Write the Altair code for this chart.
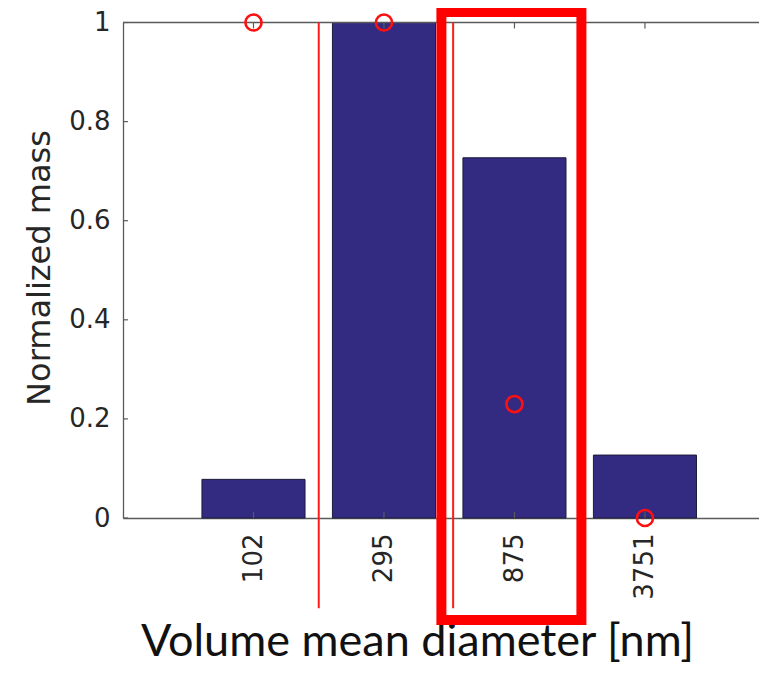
import altair as alt
import pandas as pd

# ---- data ----
categories = ["102", "295", "875", "3751"]
positions = [1, 2, 3, 4]
mass = [0.078, 1.0, 0.727, 0.127]
markers = [1.0, 1.0, 0.23, 0.0]
y_ticks = [0, 0.2, 0.4, 0.6, 0.8, 1.0]
separators = [1.5, 2.53]
highlight = {"category": "875", "x0": 2.44, "x1": 3.513, "y0": -0.206, "y1": 1.021}

half_bar = 0.395
x_max = 4.874
sep_bottom = -0.182
tick_y = 0.012
tick_x = 0.038

bars = pd.DataFrame({
    "cat": categories,
    "pos": positions,
    "mass": mass,
    "lo": [p - half_bar for p in positions],
    "hi": [p + half_bar for p in positions],
    "zero": [0.0] * len(positions),
})
pts = pd.DataFrame({"cat": categories, "pos": positions, "m": markers})
seps = pd.DataFrame({"x": separators, "top": [1.0] * len(separators), "bot": [sep_bottom] * len(separators)})
box = pd.DataFrame([highlight])
bticks = pd.DataFrame({"pos": positions, "a": [0.0] * 4, "b": [tick_y] * 4})
tticks = pd.DataFrame({"pos": positions, "a": [1.0] * 4, "b": [1.0 - tick_y] * 4})
lticks = pd.DataFrame({"y": y_ticks, "a": [0.0] * len(y_ticks), "b": [tick_x] * len(y_ticks)})
border = pd.DataFrame({"x0": [0.0], "x1": [x_max], "y": [1.0]})

label_map = "{" + ",".join(f"'{p}':'{c}'" for p, c in zip(positions, categories)) + "}"

xscale = alt.Scale(domain=[0, x_max], nice=False, zero=False)
yscale = alt.Scale(domain=[0, 1], nice=False)

axis_color = "#5a5a5a"
text_color = "#262626"

x_axis = alt.Axis(
    values=positions,
    labelExpr=f"{label_map}[datum.value] || ''",
    labelAngle=270,
    labelAlign="right",
    labelBaseline="middle",
    labelPadding=15,
    labelFontSize=26,
    labelFont="DejaVu Sans",
    labelColor=text_color,
    tickSize=0,
    ticks=False,
    grid=False,
    domainColor=axis_color,
    domainWidth=1.3,
    title="Volume mean diameter [nm]",
    titleFont="Lato",
    titleFontSize=45,
    titleFontWeight="normal",
    titleColor="#111111",
    titleX=294,
    titleY=137,
    titleAlign="center",
    titleBaseline="alphabetic",
    labelFlush=False,
    labelOverlap=False,
)

y_axis = alt.Axis(
    values=y_ticks,
    labelExpr="datum.value == 0 ? '0' : (datum.value == 1 ? '1' : format(datum.value, '.1f'))",
    labelPadding=13,
    labelFontSize=26,
    labelFont="DejaVu Sans",
    labelColor=text_color,
    tickSize=0,
    ticks=False,
    grid=False,
    domainColor=axis_color,
    domainWidth=1.3,
    title="Normalized mass",
    titleFont="DejaVu Sans",
    titleFontSize=32,
    titleFontWeight="normal",
    titleColor=text_color,
    titleAngle=270,
    titleX=-74,
    titleY=245,
    titleAlign="center",
    titleBaseline="alphabetic",
    labelFlush=False,
    labelOverlap=False,
)

bar_layer = alt.Chart(bars).mark_rect(color="#332a82", stroke="#1c1c3a", strokeWidth=1).encode(
    x=alt.X("lo:Q", scale=xscale, axis=x_axis),
    x2="hi:Q",
    y=alt.Y("mass:Q", scale=yscale, axis=y_axis),
    y2="zero:Q",
)

border_layer = alt.Chart(border).mark_rule(color=axis_color, strokeWidth=1.3).encode(
    x="x0:Q", x2="x1:Q", y="y:Q"
)

bt_layer = alt.Chart(bticks).mark_rule(color=axis_color, strokeWidth=1.2).encode(
    x="pos:Q", y="a:Q", y2="b:Q"
)
tt_layer = alt.Chart(tticks).mark_rule(color=axis_color, strokeWidth=1.2).encode(
    x="pos:Q", y="a:Q", y2="b:Q"
)
lt_layer = alt.Chart(lticks).mark_rule(color=axis_color, strokeWidth=1.2).encode(
    y="y:Q", x="a:Q", x2="b:Q"
)

sep_layer = alt.Chart(seps).mark_rule(color="#ff1a1a", strokeWidth=2).encode(
    x="x:Q", y="top:Q", y2="bot:Q"
)

box_layer = alt.Chart(box).mark_rect(fillOpacity=0, stroke="#ff0000", strokeWidth=10).encode(
    x="x0:Q", x2="x1:Q", y="y1:Q", y2="y0:Q"
)

pt_layer = alt.Chart(pts).mark_point(shape="circle", filled=False, color="#ff1010", size=260, strokeWidth=2.6, opacity=1).encode(
    x="pos:Q", y="m:Q"
)

chart = alt.layer(
    bar_layer, border_layer, bt_layer, tt_layer, lt_layer, sep_layer, box_layer, pt_layer
).properties(
    width=636,
    height=495.5,
    autosize=alt.AutoSizeParams(type="none"),
    padding={"left": 115, "top": 14.5, "right": 0, "bottom": 149},
    background="white",
).configure_view(strokeWidth=0)

chart.save("out.html", embed_options={"renderer": "svg", "actions": False})
